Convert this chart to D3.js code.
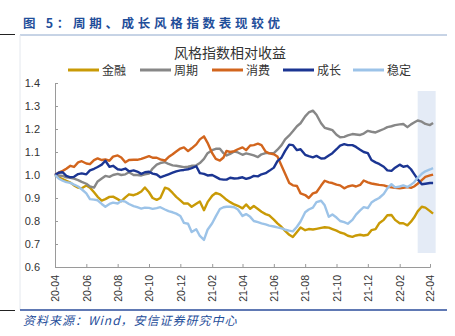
<!DOCTYPE html>
<html>
<head>
<meta charset="utf-8">
<script src="https://cdn.jsdelivr.net/npm/d3@7"></script>
<style>
  body { margin: 0; background: #fff; }
  text { font-family: "Liberation Sans", Arial, "Noto Sans CJK SC", sans-serif; }
  .cjk { font-family: "Noto Sans CJK SC", sans-serif; }
</style>
</head>
<body>
<div class="chart"></div>
<script>
// frame
const FRAME_WIDTH = 455;
const FRAME_HEIGHT = 336;
const PLOT = {left: 55, right: 430, top: 83, bottom: 267};

// data: roughly weekly readings
const dates = [
  "2020-04-01","2020-04-08","2020-04-16","2020-04-23","2020-05-01","2020-05-08","2020-05-16","2020-05-23","2020-06-01","2020-06-08","2020-06-16","2020-06-23",
  "2020-07-01","2020-07-08","2020-07-16","2020-07-23","2020-08-01","2020-08-08","2020-08-16","2020-08-23","2020-09-01","2020-09-08","2020-09-16","2020-09-23",
  "2020-10-01","2020-10-08","2020-10-16","2020-10-23","2020-11-01","2020-11-08","2020-11-16","2020-11-23","2020-12-01","2020-12-08","2020-12-16","2020-12-23",
  "2021-01-01","2021-01-08","2021-01-16","2021-01-23","2021-02-01","2021-02-08","2021-02-16","2021-02-23","2021-03-01","2021-03-08","2021-03-16","2021-03-23",
  "2021-04-01","2021-04-08","2021-04-16","2021-04-23","2021-05-01","2021-05-08","2021-05-16","2021-05-23","2021-06-01","2021-06-08","2021-06-16","2021-06-23",
  "2021-07-01","2021-07-08","2021-07-16","2021-07-23","2021-08-01","2021-08-08","2021-08-16","2021-08-23","2021-09-01","2021-09-08","2021-09-16","2021-09-23",
  "2021-10-01","2021-10-08","2021-10-16","2021-10-23","2021-11-01","2021-11-08","2021-11-16","2021-11-23","2021-12-01","2021-12-08","2021-12-16","2021-12-23",
  "2022-01-01","2022-01-08","2022-01-16","2022-01-23","2022-02-01","2022-02-08","2022-02-16","2022-02-23","2022-03-01","2022-03-08","2022-03-16","2022-03-23",
  "2022-04-01","2022-04-07"];

const jinrong = [
  1.000,0.990,0.982,0.975,0.967,0.955,0.945,0.942,0.954,0.945,0.925,0.905,
  0.889,0.895,0.905,0.906,0.895,0.886,0.903,0.916,0.912,0.918,0.928,0.946,
  0.925,0.900,0.892,0.900,0.945,0.940,0.922,0.905,0.890,0.876,0.876,0.862,
  0.875,0.885,0.847,0.882,0.910,0.922,0.916,0.904,0.892,0.882,0.872,0.866,
  0.855,0.872,0.853,0.865,0.852,0.840,0.830,0.824,0.806,0.790,0.774,0.757,
  0.740,0.730,0.752,0.772,0.760,0.765,0.763,0.766,0.770,0.773,0.771,0.765,
  0.758,0.750,0.745,0.736,0.731,0.737,0.740,0.737,0.740,0.760,0.765,0.790,
  0.805,0.825,0.826,0.805,0.790,0.790,0.781,0.797,0.815,0.842,0.862,0.858,
  0.843,0.832];
const zhouqi = [
  1.000,0.998,0.996,0.990,0.988,0.984,0.978,0.970,0.962,0.950,0.945,0.972,
  0.985,0.996,0.992,1.000,1.005,1.000,1.003,1.012,1.000,1.000,0.998,1.003,
  1.006,1.028,1.045,1.052,1.056,1.048,1.042,1.040,1.037,1.034,1.036,1.040,
  1.042,1.052,1.070,1.095,1.108,1.114,1.114,1.095,1.085,1.092,1.102,1.098,
  1.088,1.094,1.090,1.085,1.078,1.090,1.095,1.095,1.095,1.110,1.130,1.155,
  1.172,1.190,1.212,1.225,1.255,1.272,1.280,1.262,1.225,1.205,1.200,1.195,
  1.175,1.164,1.166,1.172,1.178,1.176,1.174,1.180,1.192,1.188,1.185,1.192,
  1.200,1.208,1.212,1.217,1.220,1.222,1.208,1.220,1.228,1.237,1.232,1.222,
  1.217,1.226];
const xiaofei = [
  1.000,1.010,1.018,1.027,1.040,1.035,1.055,1.060,1.050,1.047,1.065,1.072,
  1.065,1.068,1.062,1.080,1.085,1.076,1.055,1.065,1.066,1.066,1.070,1.076,
  1.082,1.075,1.075,1.068,1.063,1.078,1.090,1.102,1.115,1.120,1.104,1.116,
  1.133,1.155,1.168,1.140,1.095,1.070,1.063,1.076,1.105,1.100,1.104,1.112,
  1.120,1.108,1.128,1.130,1.136,1.130,1.102,1.094,1.090,1.080,1.040,1.005,
  0.965,0.955,0.952,0.920,0.913,0.900,0.920,0.925,0.954,0.975,0.968,0.965,
  0.958,0.955,0.942,0.950,0.955,0.950,0.957,0.976,0.968,0.963,0.960,0.957,
  0.955,0.950,0.946,0.944,0.942,0.944,0.947,0.944,0.950,0.962,0.978,0.992,
  0.998,1.002];
const chengzhang = [
  1.000,1.010,1.012,0.996,0.990,0.992,1.004,1.007,1.003,1.020,1.027,1.035,
  1.045,1.062,1.036,1.040,1.025,1.022,1.028,1.016,1.020,1.015,1.005,1.012,
  1.014,1.006,1.002,0.990,0.997,1.003,1.010,1.016,1.020,1.022,1.025,1.030,
  1.038,1.008,1.005,0.998,1.000,0.992,0.982,0.980,0.980,0.988,0.985,0.986,
  0.990,0.983,0.988,0.996,0.994,1.003,1.008,1.018,1.032,1.060,1.076,1.105,
  1.132,1.130,1.108,1.112,1.088,1.082,1.077,1.083,1.072,1.073,1.085,1.095,
  1.112,1.128,1.134,1.130,1.130,1.122,1.110,1.100,1.095,1.065,1.055,1.048,
  1.036,1.020,1.018,1.032,1.045,1.036,1.040,1.025,1.005,0.982,0.960,0.962,
  0.965,0.965];
const wending = [
  1.000,0.985,0.975,0.969,0.966,0.958,0.950,0.938,0.920,0.895,0.893,0.890,
  0.874,0.862,0.874,0.880,0.876,0.888,0.884,0.874,0.865,0.860,0.854,0.858,
  0.857,0.853,0.856,0.860,0.850,0.843,0.838,0.832,0.822,0.792,0.788,0.752,
  0.764,0.735,0.718,0.762,0.790,0.820,0.852,0.860,0.862,0.862,0.860,0.850,
  0.822,0.830,0.818,0.800,0.795,0.790,0.785,0.780,0.776,0.772,0.768,0.762,
  0.758,0.755,0.775,0.798,0.838,0.850,0.858,0.882,0.888,0.868,0.818,0.828,
  0.815,0.800,0.795,0.788,0.805,0.828,0.846,0.860,0.856,0.880,0.892,0.900,
  0.918,0.942,0.960,0.946,0.950,0.955,0.948,0.958,0.968,0.988,1.005,1.016,
  1.024,1.030];

const seriesNames = ["金融", "周期", "消费", "成长", "稳定"];
const seriesValues = [jinrong, zhouqi, xiaofei, chengzhang, wending];
const seriesColors = ["#C99A06", "#878787", "#D2651D", "#1B3592", "#9CC3E8"];
const yTicks = [0.6, 0.7, 0.8, 0.9, 1.0, 1.1, 1.2, 1.3, 1.4];
const xTicks = ["2020-04-01","2020-06-01","2020-08-01","2020-10-01","2020-12-01","2021-02-01","2021-04-01",
  "2021-06-01","2021-08-01","2021-10-01","2021-12-01","2022-02-01","2022-04-01"];
const shadeRange = ["2022-03-08", "2022-04-12"];

const parseDate = d3.timeParse("%Y-%m-%d");

let svg = d3.select(".chart")
  .append("svg")
  .attr("width", FRAME_WIDTH)
  .attr("height", FRAME_HEIGHT);

// scales
const xScale = d3.scaleTime()
  .domain([parseDate("2020-04-01"), parseDate("2022-04-01")])
  .range([PLOT.left, PLOT.right]);
const yScale = d3.scaleLinear()
  .domain([0.6, 1.4])
  .range([PLOT.bottom, PLOT.top]);

// header + frame lines
svg.append("text")
  .attr("class", "cjk")
  .attr("x", 23).attr("y", 28)
  .attr("font-size", 12.5).attr("font-weight", "bold")
  .attr("letter-spacing", 3.7)
  .attr("fill", "#1F4E9A")
  .text("图 5：周期、成长风格指数表现较优");
svg.append("line").attr("x1", 20).attr("x2", 447).attr("y1", 35).attr("y2", 35)
  .attr("stroke", "#8FA8CC").attr("stroke-width", 1);
svg.append("line").attr("x1", 0).attr("x2", 15).attr("y1", 34.5).attr("y2", 34.5)
  .attr("stroke", "#222").attr("stroke-width", 1);
svg.append("line").attr("x1", 20).attr("x2", 20).attr("y1", 35).attr("y2", 310)
  .attr("stroke", "#E4E8EE").attr("stroke-width", 1);
svg.append("line").attr("x1", 20).attr("x2", 447).attr("y1", 310).attr("y2", 310)
  .attr("stroke", "#2B4C9B").attr("stroke-width", 1.5);
svg.append("line").attr("x1", 0).attr("x2", 15).attr("y1", 310.5).attr("y2", 310.5)
  .attr("stroke", "#222").attr("stroke-width", 1);
svg.append("text")
  .attr("class", "cjk")
  .attr("x", 23).attr("y", 325)
  .attr("font-size", 12).attr("font-style", "italic")
  .attr("letter-spacing", 1)
  .attr("fill", "#1F4E9A")
  .text("资料来源：Wind，安信证券研究中心");

// chart title
svg.append("text")
  .attr("class", "cjk")
  .attr("x", 230).attr("y", 57.5)
  .attr("text-anchor", "middle")
  .attr("font-size", 14)
  .attr("fill", "#333")
  .text("风格指数相对收益");

// legend
const legendX = [68, 140, 212, 283, 353];
seriesNames.forEach(function(name, i) {
  let g = svg.append("g").attr("transform", "translate(" + legendX[i] + ",70)");
  g.append("line").attr("x1", 0).attr("x2", 31)
    .attr("stroke", seriesColors[i]).attr("stroke-width", 3);
  g.append("text").attr("class", "cjk")
    .attr("x", 34).attr("y", 4.5)
    .attr("font-size", 12).attr("fill", "#333")
    .text(name);
});

// highlighted window
svg.append("rect")
  .attr("x", xScale(parseDate(shadeRange[0])))
  .attr("width", xScale(parseDate(shadeRange[1])) - xScale(parseDate(shadeRange[0])))
  .attr("y", 91).attr("height", 162)
  .attr("fill", "#E4EBF6");

// y-axis
let yAxis = svg.append("g")
  .attr("transform", "translate(" + PLOT.left + ",0)")
  .call(d3.axisRight(yScale).tickValues(yTicks).tickFormat(d3.format(".1f")).tickSize(3));
yAxis.select(".domain").attr("stroke", "#9A9A9A");
yAxis.selectAll(".tick line").attr("stroke", "#9A9A9A");
yAxis.selectAll(".tick text")
  .attr("x", -15).attr("text-anchor", "end")
  .attr("font-size", 11).attr("fill", "#333");

// x-axis
let xAxis = svg.append("g")
  .attr("transform", "translate(0," + PLOT.bottom + ")")
  .call(d3.axisTop(xScale).tickValues(xTicks.map(parseDate)).tickFormat(d3.timeFormat("%y-%m")).tickSize(3));
xAxis.select(".domain").attr("stroke", "#9A9A9A");
xAxis.selectAll(".tick line").attr("stroke", "#9A9A9A");
xAxis.selectAll(".tick text")
  .attr("transform", "rotate(-90)")
  .attr("x", -8).attr("y", 0).attr("dy", "0.35em")
  .attr("text-anchor", "end")
  .attr("font-size", 10.5).attr("fill", "#333");

// lines
const line = d3.line()
  .x(function(d) { return xScale(d.date); })
  .y(function(d) { return yScale(d.v); });

seriesValues.forEach(function(vals, i) {
  let pts = vals.map(function(v, j) { return {date: parseDate(dates[j]), v: v}; });
  svg.append("path")
    .datum(pts)
    .attr("d", line)
    .attr("fill", "none")
    .attr("stroke", seriesColors[i])
    .attr("stroke-width", 2.4)
    .attr("stroke-linejoin", "round");
});
</script>
</body>
</html>
